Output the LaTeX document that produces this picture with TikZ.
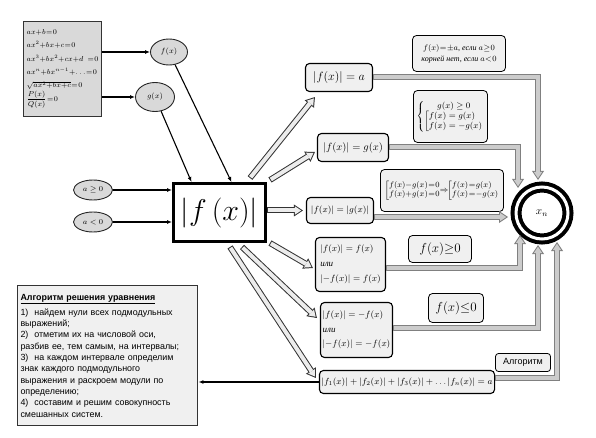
\RequirePackage{fix-cm}
\documentclass[tikz,border=0pt]{standalone}
\usepackage{amsmath,amssymb}
\usepackage{fontspec}
\setmainfont{Liberation Serif}
\setsansfont{Liberation Sans}
\usetikzlibrary{shapes.geometric, arrows.meta}
\newcommand{\absv}[1]{\left|#1\right|}
\newcommand{\tightmath}{\medmuskip=0mu\thickmuskip=1mu}

\begin{document}
\begin{tikzpicture}[
                x=1pt, y=-1pt,
                eqbox/.style={
                    draw=black!80,
                    fill=gray!30,
                    line width=1pt,
                },
                oval/.style={
                    ellipse,
                    draw=black!85,
                    fill=gray!30,
                    line width=0.9pt,
                    inner sep=0pt,
                    font=\fontsize{7.5}{9}\selectfont,
                },
                mainbox/.style={
                    draw,
                    line width=3pt,
                    minimum width=92pt,
                    minimum height=58pt,
                    inner sep=0pt,
                },
                casebox/.style={
                    draw,
                    rounded corners=4pt,
                    fill=gray!12,
                    line width=1.1pt,
                    inner sep=2pt,
                },
                notebox/.style={
                    casebox,
                    line width=0.8pt,
                },
                bandpath/.style 2 args={
                    draw=#2,
                    line width=4pt,
                    shorten <=1pt,
                    shorten >=1.8pt,
                    -{Triangle[length=6.2pt,width=8.3pt,line width=0pt]},
                    preaction={
                        draw=#1,
                        line width=6pt,
                        shorten <=0pt,
                        shorten >=0pt,
                        -{Triangle[length=9pt,width=12pt,line width=0pt]},
                    },
                },
                band/.style={bandpath={black!80}{gray!15}},
                greyband/.style={bandpath={gray}{gray!40}},
                >={Latex[length=5pt,width=4pt]},
            ]
            \useasboundingbox (0,0) rectangle (596,438);

            % sources
            \node [eqbox, minimum width=72pt, minimum height=95pt, align=left,
                font=\fontsize{7.2}{13.4}\selectfont\tightmath] (eqs) at (62.5,69) {
                $ax+b=0$\\
                $ax^2+bx+c=0$\\
                $ax^3+bx^2+cx+d\ \ =0$\\
                $ax^n+bx^{n-1}+\ldots=0$\\
                $\sqrt{ax^2+bx+c}=0$\\
                $\dfrac{P(x)}{Q(x)}=0$} ;
            \node [oval, minimum width=37pt, minimum height=26pt] (fx) at (169,52) {$f(x)$} ;
            \node [oval, minimum width=39pt, minimum height=29pt] (gx) at (155,97) {$g(x)$} ;
            \node [oval, minimum width=39pt, minimum height=20pt] (apos) at (93,190) {$a\geq0$} ;
            \node [oval, minimum width=39pt, minimum height=20pt] (aneg) at (93,222) {$a<0$} ;
            \node [mainbox] (main) at (219.5,212.5) {\fontsize{30}{36}\selectfont$\absv{f\,(x)}$} ;

            % cases
            \node [casebox, minimum width=67pt, minimum height=28pt,
                font=\fontsize{12}{14}\selectfont] (r1) at (339,77.5) {$\absv{f(x)}=a$} ;
            \node [casebox, minimum width=71pt, minimum height=28pt,
                font=\fontsize{10.5}{12}\selectfont] (r2) at (353,147.5) {$\absv{f(x)}=g(x)$} ;
            \node [casebox, minimum width=67pt, minimum height=26pt,
                font=\fontsize{8.8}{10}\selectfont] (r3) at (340,210.5) {$\absv{f(x)}=\absv{g(x)}$} ;
            \node [casebox, minimum width=70pt, minimum height=54pt, align=left,
                font=\fontsize{9}{15}\selectfont] (r4) at (350.5,264.5) {
                $\absv{f(x)}=f(x)$\\ \emph{или}\\ $\absv{-f(x)}=f(x)$} ;
            \node [casebox, minimum width=72pt, minimum height=55pt, align=left,
                font=\fontsize{9}{14.5}\selectfont] (r5) at (356.5,330) {
                $\absv{f(x)}=-f(x)$\\ \emph{или}\\ $\absv{-f(x)}=-f(x)$} ;
            \node [casebox, minimum width=171pt, minimum height=23pt,
                font=\fontsize{8.8}{10}\selectfont] (r6) at (407,382) {
                $\absv{f_1(x)}+\absv{f_2(x)}+\absv{f_3(x)}+\ldots\absv{f_n(x)}=a$} ;

            % notes
            \node [notebox, minimum width=93pt, minimum height=36pt, align=center,
                font=\fontsize{8}{11}\selectfont\tightmath] (n1) at (459,53.5) {
                $f(x)=\pm a$, \emph{если} $a\geq0$\\ \emph{корней нет, если} $a<0$} ;
            \node [notebox, minimum width=74pt, minimum height=52pt,
                font=\fontsize{8.5}{10}\selectfont] (n2) at (450.5,116.5) {
                $\left\{\begin{array}{@{}c@{}} g(x)\geq0\\
                \left[\begin{array}{@{}l@{}} f(x)=g(x)\\ f(x)=-g(x)\end{array}\right.
                \end{array}\right.$} ;
            \node [notebox, minimum width=123pt, minimum height=42pt,
                font=\fontsize{8}{9}\selectfont\tightmath] (n3) at (442,190.5) {
                $\left[\begin{array}{@{}l@{}} f(x)-g(x)=0\\ f(x)+g(x)=0\end{array}\right.
                \!\Rightarrow\!
                \left[\begin{array}{@{}l@{}} f(x)=g(x)\\ f(x)=-g(x)\end{array}\right.$} ;
            \node [notebox, minimum width=63pt, minimum height=27pt,
                font=\fontsize{13}{15}\selectfont] (n4) at (440,249) {$f(x){\geq}0$} ;
            \node [notebox, minimum width=55pt, minimum height=29pt,
                font=\fontsize{13}{15}\selectfont] (n5) at (456,308) {$f(x){\leq}0$} ;
            \node [notebox, rounded corners=3pt, minimum width=55pt, minimum height=18pt,
                font=\sffamily\fontsize{9}{10}\selectfont] (alg) at (523,362.5) {Алгоритм} ;

            % root
            \node [circle, draw, line width=4pt, double, double distance=3pt,
                minimum size=52pt, inner sep=0pt,
                font=\fontsize{11}{13}\selectfont] (xn) at (542,213) {$x_n$} ;

            \node [draw=black!80, line width=1.3pt, fill=gray!12,
                minimum width=180pt, minimum height=140pt, text width=174pt, align=left,
                font=\sffamily\fontsize{8.9}{11.3}\selectfont] (algtext) at (107.5,355.5) {
                \textbf{\underline{Алгоритм решения уравнения}}\\[4pt]
                1)~ найдем нули всех подмодульных\\
                выражений;\\
                2)~ отметим их на числовой оси,\\
                разбив ее, тем самым, на интервалы;\\
                3)~ на каждом интервале определим\\
                знак каждого подмодульного\\
                выражения и раскроем модули по\\
                определению;\\
                4)~ составим и решим совокупность\\
                смешанных систем.} ;

            \coordinate (ta) at (538,180) ;
            \coordinate (tb) at (518,188) ;
            \coordinate (tc) at (508,217) ;
            \coordinate (td) at (520,235) ;
            \coordinate (te) at (538,245) ;
            \coordinate (tf) at (557,242) ;

            \begin{scope}[line width=1.1pt]
                \draw [->] (eqs.east |- fx) -- (fx) ;
                \draw [->] (eqs.east |- gx) -- (gx) ;
                \draw [->] (fx) -- ([xshift=12pt]main.north) ;
                \draw [->] (gx) -- ([xshift=-28pt]main.north) ;
                \draw [->] (apos) -- (main.west |- apos) ;
                \draw [->] (aneg) -- (main.west |- aneg) ;
                \draw [->] (r6.west) -- (algtext.east |- r6.west) ;
            \end{scope}

            \draw [band] ([xshift=-17pt,yshift=4pt]main.north east) -- ([xshift=10pt,yshift=-5pt]r1.south west) ;
            \draw [band] ([xshift=3pt,yshift=2pt]main.north east) -- ([xshift=-2pt,yshift=-4.5pt]r2.west) ;
            \draw [band] (main.east |- r3.west) -- ([xshift=-3pt]r3.west) ;
            \draw [band] ([xshift=3pt]main.south east) -- ([xshift=-2pt,yshift=-3.5pt]r4.west) ;
            \draw [band] ([xshift=22.5pt,yshift=-4pt]main.south) -- ([xshift=-3pt,yshift=12pt]r5.west) ;
            \draw [band] ([xshift=10.5pt,yshift=-4pt]main.south) -- ([xshift=-3pt,yshift=4pt]r6.west) ;

            \draw [greyband] (r1.east) -| (ta) ;
            \draw [greyband] (r2.east) -| (tb) ;
            \draw [greyband] (r3.east |- tc) -- (tc) ;
            \draw [greyband] ([yshift=-3.5pt]r4.east) -| (td) ;
            \draw [greyband] ([yshift=2pt]r5.east) -| (te) ;
            \draw [greyband] ([yshift=4pt]r6.east) -| (tf) ;
        \end{tikzpicture}
\end{document}
